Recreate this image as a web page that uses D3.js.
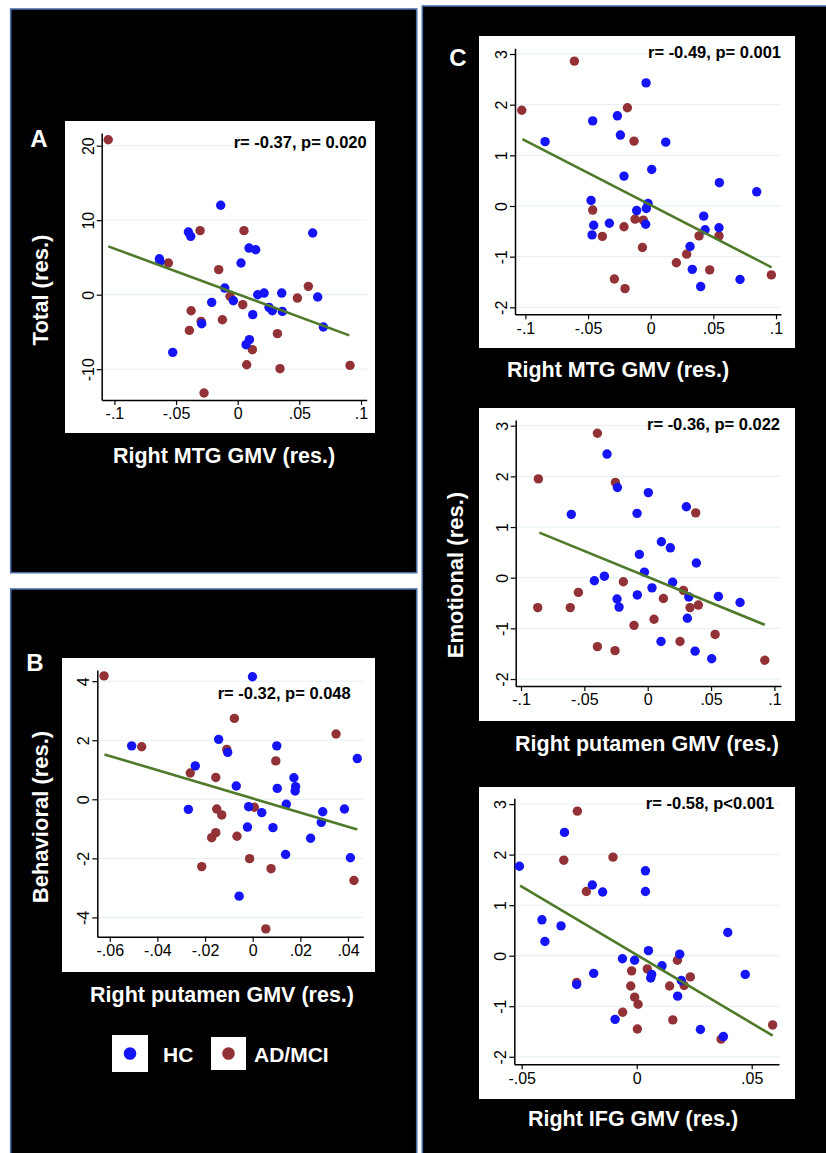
<!DOCTYPE html>
<html><head><meta charset="utf-8">
<script src="https://cdn.jsdelivr.net/npm/d3@7"></script>
<style>body{margin:0;background:#fff}</style>
</head><body>
<svg id="fig" width="826" height="1153"></svg>
<script>
// ---------------- DATA ----------------
const A_hc = [[-0.0138,12.0],[-0.0400,8.41],[-0.0381,7.83],[0.0608,8.28],[0.0092,6.26],[0.0146,6.04],[0.0027,4.25],[-0.0635,4.83],[-0.0630,4.47],[-0.0105,0.89],[-0.0035,-0.81],[-0.0211,-1.03],[0.0162,0.0],[0.0214,0.22],[0.0357,0.22],[0.0254,-1.70],[0.0281,-2.15],[0.0362,-2.24],[0.0122,-2.68],[0.0649,-0.31],[-0.0292,-3.89],[0.0695,-4.34],[0.0095,-6.04],[0.0068,-6.71],[-0.0527,-7.74]];
const A_ad = [[-0.105,20.8],[-0.0305,8.6],[0.0051,8.6],[-0.0562,4.25],[-0.0154,3.36],[0.0573,1.12],[0.0484,-0.45],[-0.0062,-0.22],[0.0041,-1.34],[-0.0378,-2.15],[-0.0297,-3.58],[-0.0124,-3.36],[-0.0392,-4.79],[0.0322,-5.23],[0.0119,-7.38],[0.0073,-9.40],[0.0343,-9.93],[0.0911,-9.49],[-0.0273,-13.2]];
const A_fit = [[-0.105,6.49],[0.0905,-5.46]];

const B_hc = [[-0.0001,4.15],[-0.0508,1.81],[-0.0143,2.03],[-0.0105,1.59],[0.0101,1.81],[0.0439,1.38],[-0.0241,1.13],[-0.0069,0.45],[0.0173,0.73],[0.0180,0.43],[0.0178,0.28],[0.0103,0.37],[-0.0270,-0.34],[-0.0017,-0.25],[0.0038,-0.45],[0.0141,-0.17],[0.0294,-0.42],[0.0385,-0.33],[0.0288,-0.78],[-0.0022,-0.94],[0.0085,-0.96],[0.0243,-1.32],[0.0138,-1.87],[0.0410,-1.98],[-0.0057,-3.28]];
const B_ad = [[-0.0624,4.18],[-0.0466,1.78],[-0.0077,2.74],[0.0350,2.21],[-0.0109,1.69],[-0.0262,0.89],[-0.0155,0.74],[0.0097,1.30],[-0.0151,-0.33],[-0.0130,-0.53],[0.0007,-0.27],[-0.0155,-1.13],[-0.0172,-1.30],[-0.0066,-1.25],[-0.0214,-2.28],[-0.0013,-2.01],[0.0077,-2.35],[0.0425,-2.75],[0.0055,-4.39]];
const B_fit = [[-0.0622,1.52],[0.0439,-1.02]];

const C1_hc = [[-0.0037,2.43],[-0.0843,1.27],[-0.0463,1.68],[-0.0266,1.78],[-0.0242,1.40],[0.0120,1.26],[-0.0213,0.59],[0.0008,0.72],[0.0548,0.46],[0.0846,0.28],[-0.0476,0.11],[-0.0021,0.05],[-0.0035,-0.05],[-0.0112,-0.09],[-0.0455,-0.38],[-0.0330,-0.34],[-0.0040,-0.36],[-0.0468,-0.57],[0.0423,-0.20],[0.0545,-0.43],[0.0434,-0.47],[0.0314,-0.80],[0.0332,-1.25],[0.0713,-1.45],[0.0399,-1.59]];
const C1_ad = [[-0.1029,1.89],[-0.0609,2.86],[-0.0186,1.94],[-0.0133,1.28],[-0.0463,-0.08],[-0.0386,-0.60],[-0.0213,-0.41],[-0.0125,-0.26],[-0.0059,-0.28],[-0.0066,-0.82],[-0.0290,-1.44],[-0.0205,-1.63],[0.0205,-1.12],[0.0287,-0.95],[0.0386,-0.59],[0.0545,-0.59],[0.0471,-1.26],[0.0963,-1.36]];
const C1_fit = [[-0.1024,1.32],[0.0965,-1.21]];

const C2_hc = [[-0.0321,2.44],[-0.0239,1.78],[0.0005,1.68],[0.0305,1.40],[-0.0603,1.25],[-0.0084,1.27],[0.0108,0.71],[0.0179,0.59],[-0.0066,0.46],[0.0384,0.29],[-0.0026,0.11],[-0.0342,0.03],[-0.0421,-0.06],[0.0034,-0.20],[0.0197,-0.09],[-0.0082,-0.34],[-0.0242,-0.42],[-0.0226,-0.58],[0.0324,-0.38],[0.0558,-0.37],[0.0729,-0.49],[0.0313,-0.80],[0.0105,-1.26],[0.0374,-1.45],[0.0505,-1.60]];
const C2_ad = [[-0.0397,2.85],[-0.0863,1.95],[-0.0255,1.88],[0.0379,1.28],[-0.0192,-0.08],[-0.0547,-0.29],[-0.0868,-0.59],[-0.0611,-0.59],[0.0124,-0.41],[0.0050,-0.82],[0.0282,-0.25],[0.0334,-0.59],[0.0400,-0.54],[-0.0108,-0.94],[-0.0397,-1.36],[-0.0258,-1.44],[0.0255,-1.26],[0.0532,-1.12],[0.0924,-1.63]];
const C2_fit = [[-0.0855,0.89],[0.0924,-0.93]];

const C3_hc = [[-0.0510,1.77],[-0.0314,2.44],[-0.0193,1.40],[-0.0148,1.26],[0.0038,1.68],[0.0038,1.27],[-0.0412,0.71],[-0.0329,0.59],[-0.0399,0.28],[0.0396,0.46],[0.0051,0.10],[-0.0062,-0.06],[-0.0009,-0.09],[0.0187,0.03],[0.0110,-0.20],[0.0065,-0.37],[0.0061,-0.44],[-0.0187,-0.35],[-0.0261,-0.57],[0.0194,-0.49],[0.0178,-0.80],[-0.0094,-1.26],[0.0277,-1.46],[0.0377,-1.60],[0.0472,-0.37]];
const C3_ad = [[-0.0258,2.86],[-0.0317,1.89],[-0.0103,1.95],[-0.0219,1.27],[-0.0261,-0.53],[-0.0022,-0.30],[0.0046,-0.26],[-0.0026,-0.60],[-0.0009,-0.82],[0.0006,-0.96],[-0.0061,-1.12],[0.0003,-1.45],[0.0143,-0.60],[0.0177,-0.09],[0.0233,-0.42],[0.0206,-0.59],[0.0157,-1.27],[0.0367,-1.65],[0.0591,-1.37]];
const C3_fit = [[-0.0507,1.385],[0.0591,-1.58]];

const xTicksWide = [-0.1,-0.05,0,0.05,0.1];
const xTicksB = [-0.06,-0.04,-0.02,0,0.02,0.04];
const xTicksC3 = [-0.05,0,0.05];
const yTicksA = [-10,0,10,20];
const yTicksB = [-4,-2,0,2,4];
const yTicksC = [-2,-1,0,1,2,3];

const statLabels = ["r= -0.37, p= 0.020","r= -0.32, p= 0.048","r= -0.49, p= 0.001","r= -0.36, p= 0.022","r= -0.58, p<0.001"];
const xTitles = ["Right MTG GMV (res.)","Right putamen GMV (res.)","Right MTG GMV (res.)","Right putamen GMV (res.)","Right IFG GMV (res.)"];
const yTitles = ["Total (res.)","Behavioral (res.)","Emotional (res.)"];
const panelLetters = ["A","B","C"];
const groupLabels = ["HC","AD/MCI"];

// ---------------- STYLE ----------------
const COL_HC = "#1414f5", COL_AD = "#933236", COL_FIT = "#4f7a2a";
const FONT = "'Liberation Sans',Arial,sans-serif";
const svg = d3.select("#fig");
svg.append("rect").attr("width",826).attr("height",1153).attr("fill","#fff");

// panels
[[10.7,9,406,563.7],[10.7,589,406,570],[422.3,6,410,1153]].forEach(p=>{
  svg.append("rect").attr("x",p[0]).attr("y",p[1]).attr("width",p[2]).attr("height",p[3])
    .attr("fill","#000").attr("stroke","#4d6da6").attr("stroke-width",1.6);
});

const fmt = v => v===0 ? "0" : String(v).replace("0.",".");

function plot(cfg){
  const g = svg.append("g");
  g.append("rect").attr("x",cfg.box[0]).attr("y",cfg.box[1]).attr("width",cfg.box[2]).attr("height",cfg.box[3]).attr("fill","#fff");
  const x = d3.scaleLinear().domain([0,cfg.xa[0]]).range([cfg.xa[1],cfg.xa[2]]);
  x.domain([x.invert(cfg.L), x.invert(cfg.R)]).range([cfg.L,cfg.R]);
  const y = d3.scaleLinear().domain([0,cfg.ya[0]]).range([cfg.ya[1],cfg.ya[2]]);
  y.domain([y.invert(cfg.B), y.invert(cfg.T)]).range([cfg.B,cfg.T]);
  // grid
  g.selectAll(".grid").data(cfg.yt).join("line")
    .attr("x1",cfg.L).attr("x2",cfg.R).attr("y1",d=>y(d)).attr("y2",d=>y(d))
    .attr("stroke","#e4eef0").attr("stroke-width",1);
  // axes
  const ax = g.append("g").attr("transform",`translate(0,${cfg.B})`)
    .call(d3.axisBottom(x).tickValues(cfg.xt).tickFormat(fmt).tickSize(5).tickSizeOuter(0).tickPadding(3));
  const ay = g.append("g").attr("transform",`translate(${cfg.L},0)`)
    .call(d3.axisLeft(y).tickValues(cfg.yt).tickFormat(fmt).tickSize(5).tickSizeOuter(0));
  [ax,ay].forEach(a=>{
    a.select(".domain").attr("stroke","#000").attr("stroke-width",1.5);
    a.selectAll(".tick line").attr("stroke","#000").attr("stroke-width",1.2);
    a.selectAll("text").attr("fill","#000").style("font-family",FONT).style("font-size","16px");
  });
  ay.selectAll(".tick text").attr("transform","rotate(-90)").attr("text-anchor","middle")
    .attr("x",0).attr("y",-8).attr("dy",0);
  // points: AD first, HC on top
  g.selectAll(".ad").data(cfg.ad).join("circle").attr("cx",d=>x(d[0])).attr("cy",d=>y(d[1])).attr("r",4.7).attr("fill",COL_AD);
  g.selectAll(".hc").data(cfg.hc).join("circle").attr("cx",d=>x(d[0])).attr("cy",d=>y(d[1])).attr("r",4.7).attr("fill",COL_HC);
  // fit line
  g.append("path").datum(cfg.fit).attr("d",d3.line().x(d=>x(d[0])).y(d=>y(d[1])))
    .attr("stroke",COL_FIT).attr("stroke-width",2.6).attr("fill","none");
  // stats
  g.append("text").attr("x",cfg.stat[0]).attr("y",cfg.stat[1]).attr("text-anchor","end")
    .style("font-family",FONT).style("font-weight","bold").style("font-size","16.5px")
    .text(cfg.statText);
  // x title
  svg.append("text").attr("x",cfg.xtitle[0]).attr("y",cfg.xtitle[1]).attr("text-anchor","middle")
    .attr("fill","#fff").style("font-family",FONT).style("font-weight","bold").style("font-size","21.5px")
    .text(cfg.xTitleText);
}

plot({box:[65,121,310,312], L:101.7,R:366.7,T:133,B:400, xa:[0.1,237.7,361.0], ya:[20,294.7,145.7],
  xt:xTicksWide, yt:yTicksA, hc:A_hc, ad:A_ad, fit:A_fit, stat:[366.7,148], statText:statLabels[0],
  xtitle:[224,463], xTitleText:xTitles[0]});
plot({box:[62,658,313,314], L:97.3,R:363.3,T:670,B:936.7, xa:[0.04,252.7,348.0], ya:[4,799.3,681.2],
  xt:xTicksB, yt:yTicksB, hc:B_hc, ad:B_ad, fit:B_fit, stat:[350.7,699], statText:statLabels[1],
  xtitle:[222,1002], xTitleText:xTitles[1]});
plot({box:[479,36,316,312], L:515,R:781,T:48.3,B:314.3, xa:[0.1,650.7,776.0], ya:[3,206,54],
  xt:xTicksWide, yt:yTicksC, hc:C1_hc, ad:C1_ad, fit:C1_fit, stat:[781,58], statText:statLabels[2],
  xtitle:[618,377], xTitleText:xTitles[2]});
plot({box:[479,408,316,313], L:515.7,R:781,T:420,B:686, xa:[0.1,647.7,774.4], ya:[3,577.7,425.7],
  xt:xTicksWide, yt:yTicksC, hc:C2_hc, ad:C2_ad, fit:C2_fit, stat:[780,430], statText:statLabels[3],
  xtitle:[647,751], xTitleText:xTitles[3]});
plot({box:[479,787,316,312], L:514.3,R:779,T:798.3,B:1064.3, xa:[0.05,636.7,751.7], ya:[3,955.7,804.1],
  xt:xTicksC3, yt:yTicksC, hc:C3_hc, ad:C3_ad, fit:C3_fit, stat:[774.3,809], statText:statLabels[4],
  xtitle:[633,1126], xTitleText:xTitles[4]});

// y titles
[[48,290],[48,817],[463,575]].forEach((p,i)=>{
  svg.append("text").attr("transform",`translate(${p[0]},${p[1]}) rotate(-90)`).attr("text-anchor","middle")
    .attr("fill","#fff").style("font-family",FONT).style("font-weight","bold").style("font-size","22px")
    .text(yTitles[i]);
});
// panel letters
[[39,147],[35,671],[458,66]].forEach((p,i)=>{
  svg.append("text").attr("x",p[0]).attr("y",p[1]).attr("text-anchor","middle")
    .attr("fill","#fff").style("font-family",FONT).style("font-weight","bold").style("font-size","24px")
    .text(panelLetters[i]);
});
// legend
const leg = [{box:[112,1035,36,37], col:COL_HC, tx:163}, {box:[211,1037,35,33], col:COL_AD, tx:254}];
leg.forEach((l,i)=>{
  svg.append("rect").attr("x",l.box[0]).attr("y",l.box[1]).attr("width",l.box[2]).attr("height",l.box[3]).attr("fill","#fff");
  svg.append("circle").attr("cx",l.box[0]+l.box[2]/2).attr("cy",l.box[1]+l.box[3]/2).attr("r",6.3).attr("fill",l.col);
  svg.append("text").attr("x",l.tx).attr("y",1062).attr("fill","#fff")
    .style("font-family",FONT).style("font-weight","bold").style("font-size","21px")
    .text(groupLabels[i]);
});
</script>
</body></html>
